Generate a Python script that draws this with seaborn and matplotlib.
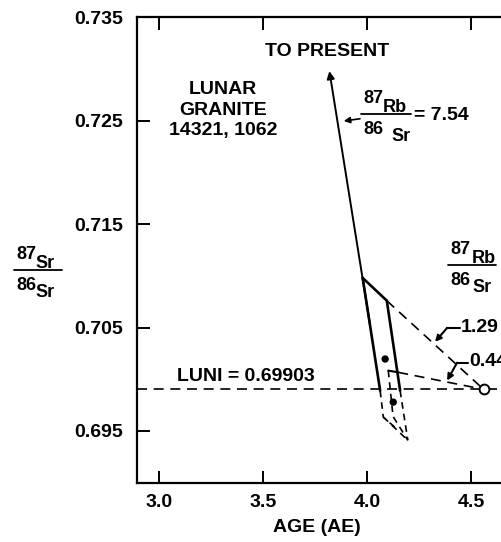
import numpy as np
import pandas as pd
import matplotlib
matplotlib.use("Agg")
import matplotlib.pyplot as plt
import seaborn as sns

# ── Data ──────────────────────────────────────────────────────
x_ticks = [3.0, 3.5, 4.0, 4.5]
x_tick_labels = ["3.0", "3.5", "4.0", "4.5"]
y_ticks = [0.695, 0.705, 0.715, 0.725, 0.735]
y_tick_labels = ["0.695", "0.705", "0.715", "0.725", "0.735"]

luni_sr = 0.69903
luni_age = 4.56

# evolution line 87Rb/86Sr = 1.29 (solid part, dashed part to LUNI point)
line129_age = [3.979, 4.095]
line129_sr = [0.7098, 0.7076]
# evolution line 87Rb/86Sr = 0.44
line044_age = [4.102, 4.150]
line044_sr = [0.70084, 0.70067]

# outer envelope of the 7.54 evolution
left_solid_age = [3.979, 4.063]
left_solid_sr = [0.7098, 0.6989]
left_dash_age = [4.063, 4.078, 4.150]
left_dash_sr = [0.6989, 0.69635, 0.69507]
right_solid_age = [4.095, 4.159]
right_solid_sr = [0.7076, 0.6989]
right_dash_age = [4.159, 4.196]
right_dash_sr = [0.6989, 0.6941]
inner_dash_age = [4.102, 4.125, 4.196]
inner_dash_sr = [0.70084, 0.69641, 0.6941]
bottom_dash_age = [4.078, 4.196]
bottom_dash_sr = [0.69635, 0.6941]

dot_age = [4.087, 4.126]
dot_sr = [0.70196, 0.69779]

# annotation arrows
present_arrow_age = [4.014, 3.819]
present_arrow_sr = [0.7053, 0.7298]
leader129_age = [4.447, 4.385, 4.327]
leader129_sr = [0.70497, 0.70497, 0.70362]
leader044_age = [4.486, 4.433, 4.385]
leader044_sr = [0.70161, 0.70161, 0.69988]
arrow754_age = [3.966, 3.888]
arrow754_sr = [0.72519, 0.72497]

# ── Style ─────────────────────────────────────────────────────
sns.set_theme(style="white")
plt.rcParams["font.family"] = ["Liberation Sans", "DejaVu Sans"]
plt.rcParams["font.weight"] = "bold"

W, H = 501, 542
fig = plt.figure(figsize=(W / 100, H / 100), dpi=100)
ax = fig.add_axes([137 / W, 1 - 482.7 / H, 1 - 137 / W, (482.7 - 17.3) / H])
FS = 14


def px(x, y):
    return x / W, 1 - y / H


def seg(xs, ys, dashed=False, lw=1.9, dash=(6, 4)):
    sns.lineplot(x=xs, y=ys, sort=False, estimator=None, color="black",
                 lw=lw if not dashed else 1.2,
                 linestyle=(0, dash) if dashed else "-", ax=ax)


# LUNI line
sns.lineplot(x=[2.894, 4.644], y=[luni_sr, luni_sr], sort=False, estimator=None,
             color="black", lw=1.2, linestyle=(0, (6, 4)), ax=ax)

# evolution lines
seg(line129_age, line129_sr)
seg([line129_age[-1], luni_age], [line129_sr[-1], luni_sr], dashed=True)
seg(line044_age, line044_sr, lw=1.5)
seg([line044_age[-1], luni_age], [line044_sr[-1], luni_sr], dashed=True)
seg(left_solid_age, left_solid_sr)
seg(left_dash_age, left_dash_sr, dashed=True, dash=(4, 3))
seg(right_solid_age, right_solid_sr)
seg(right_dash_age, right_dash_sr, dashed=True, dash=(4, 3))
seg(inner_dash_age, inner_dash_sr, dashed=True, dash=(4, 3))
seg(bottom_dash_age, bottom_dash_sr, dashed=True, dash=(4, 3))

sns.scatterplot(x=dot_age, y=dot_sr, color="black", s=28, edgecolor="none", ax=ax, zorder=5)
sns.scatterplot(x=[luni_age], y=[luni_sr], color="white", s=50, edgecolor="black",
                linewidth=1.4, ax=ax, zorder=6)

arrow_kw = dict(arrowstyle="-|>", color="black", lw=1.4, mutation_scale=11,
                shrinkA=0, shrinkB=0)
ax.annotate("", xy=(present_arrow_age[1], present_arrow_sr[1]),
            xytext=(present_arrow_age[0], present_arrow_sr[0]), arrowprops=arrow_kw)
ax.annotate("", xy=(arrow754_age[1], arrow754_sr[1]),
            xytext=(arrow754_age[0], arrow754_sr[0]),
            arrowprops=dict(arrow_kw, lw=1.2, mutation_scale=9))
for la, ls in [(leader129_age, leader129_sr), (leader044_age, leader044_sr)]:
    ax.plot(la[:2], ls[:2], color="black", lw=1.5)
    ax.annotate("", xy=(la[2], ls[2]), xytext=(la[1], ls[1]),
                arrowprops=dict(arrow_kw, lw=1.5, mutation_scale=9))

# ── Axes ──────────────────────────────────────────────────────
ax.set_xlim(2.894, 4.644)
ax.set_ylim(0.690, 0.735)
ax.set_xticks(x_ticks, x_tick_labels)
ax.set_yticks(y_ticks, y_tick_labels)
ax.tick_params(axis="both", direction="in", length=9, width=1.4, color="black",
               labelsize=FS, labelcolor="black")
ax.tick_params(axis="x", top=True, bottom=True, pad=8)
ax.tick_params(axis="y", left=True, pad=10)
for side in ["left", "top", "bottom"]:
    ax.spines[side].set_color("black")
    ax.spines[side].set_linewidth(1.6)
ax.spines["right"].set_visible(False)
for lab in ax.get_xticklabels() + ax.get_yticklabels():
    lab.set_fontweight("bold")

ax.set_xlabel("AGE (AE)", fontsize=FS, fontweight="bold", color="black")
ax.xaxis.set_label_coords((317 - 137) / (W - 137), (482.7 - 528) / 465.4)
ax.xaxis.label.set_va("center")


# ── Texts ─────────────────────────────────────────────────────
def ratio_label(x0, ly, top_el, bot_el, dx_top=20, dx_bot=21, width=48, fs=13):
    kw = dict(fontsize=fs, fontweight="bold", ha="left", va="baseline", color="black")
    fig.text(*px(x0, ly - 11), "87", **kw)
    fig.text(*px(x0 + dx_top, ly - 2), top_el, **kw)
    fig.text(*px(x0, ly + 20), "86", **kw)
    fig.text(*px(x0 + dx_bot, ly + 27), bot_el, **kw)
    fig.add_artist(plt.Line2D([(x0 - 2) / W, (x0 + width) / W], [1 - ly / H] * 2,
                              transform=fig.transFigure, color="black", lw=1.3))


ratio_label(16, 270, "Sr", "Sr", dx_top=19, dx_bot=19, width=46)
ratio_label(363, 114, "Rb", "Sr", dx_top=20, dx_bot=28, width=48)
ratio_label(450, 265, "Rb", "Sr", dx_top=22, dx_bot=22, width=46)

tkw = dict(fontsize=FS, fontweight="bold", color="black")
fig.text(*px(414, 115), "= 7.54", ha="left", va="center", **tkw)
fig.text(*px(326.7, 51.7), "TO PRESENT", ha="center", va="center", **tkw)
for i, line in enumerate(["LUNAR", "GRANITE", "14321, 1062"]):
    fig.text(*px(223, 90 + 20.5 * i), line, ha="center", va="center", **tkw)
fig.text(*px(177, 376.5), "LUNI = 0.69903", ha="left", va="center", **tkw)
fig.text(*px(461, 327), "1.29", ha="left", va="center", **tkw)
fig.text(*px(469, 362), "0.44", ha="left", va="center", **tkw)

fig.savefig("out.png", dpi=100)
